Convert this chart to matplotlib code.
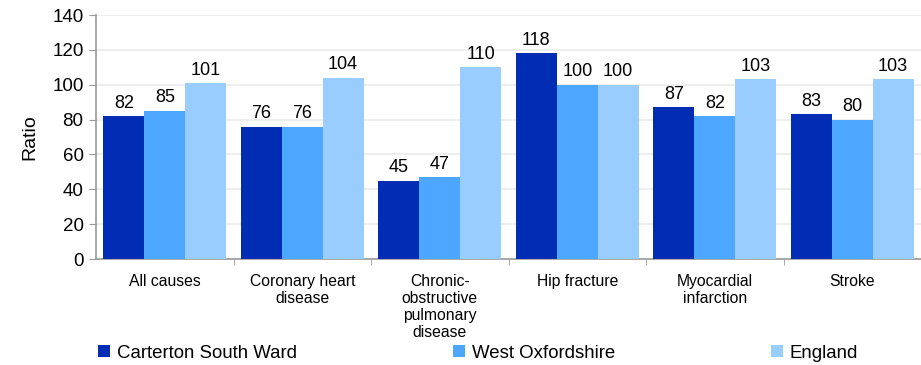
import matplotlib
matplotlib.use("Agg")
import matplotlib.pyplot as plt
import numpy as np
from matplotlib.patches import Patch

plt.rcParams['font.family'] = ['Liberation Sans', 'DejaVu Sans']

categories = ["All causes", "Coronary heart\ndisease",
              "Chronic-\nobstructive\npulmonary\ndisease",
              "Hip fracture", "Myocardial\ninfarction", "Stroke"]
series_names = ["Carterton South Ward", "West Oxfordshire", "England"]
carterton = [82, 76, 45, 118, 87, 83]
west_oxon = [85, 76, 47, 100, 82, 80]
england = [101, 104, 110, 100, 103, 103]
colors = ["#002db3", "#4da6ff", "#99ccff"]

fig = plt.figure(figsize=(9.21, 3.65), dpi=100)
ax = fig.add_axes([96 / 921, 1 - 259 / 365, 825 / 921, 244 / 365])

x = np.arange(len(categories))
width = 0.297
for i, (vals, col) in enumerate(zip([carterton, west_oxon, england], colors)):
    pos = x + (i - 1) * width
    ax.bar(pos, vals, width=width, color=col, zorder=3, linewidth=0)
    for p, v in zip(pos, vals):
        ax.text(p, v + 2.5, f"{v}", ha='center', va='bottom', fontsize=13, zorder=4)

ax.set_xlim(-0.5, len(categories) - 0.5)
ax.set_ylim(0, 140)
ax.set_yticks(np.arange(0, 141, 20))
ax.tick_params(axis='y', labelsize=13.5, length=5, color='#999999', pad=4)
ax.yaxis.grid(True, color='#eeeeee', linewidth=1.5, zorder=0)
ax.set_ylabel("Ratio", fontsize=14, labelpad=10)

ax.set_xticks(x)
ax.set_xticklabels(categories, fontsize=11.3, linespacing=1.15)
ax.tick_params(axis='x', length=0, pad=11)
ax.set_xticks(np.arange(0.5, len(categories) - 0.5, 1), minor=True)
ax.tick_params(axis='x', which='minor', length=4, color='#999999')

for s in ['top', 'right']:
    ax.spines[s].set_visible(False)
for s in ['left', 'bottom']:
    ax.spines[s].set_color('#999999')
    ax.spines[s].set_linewidth(1.2)

handles = [Patch(facecolor=c, edgecolor='none') for c in colors]
fig.legend(handles, series_names, loc='center left',
           bbox_to_anchor=(98 / 921, 1 - 353 / 365), ncol=3, frameon=False,
           fontsize=13.4, handlelength=0.65, handleheight=0.65,
           handletextpad=0.35, columnspacing=8.4, borderpad=0, borderaxespad=0)

fig.savefig("out.png", dpi=100)
